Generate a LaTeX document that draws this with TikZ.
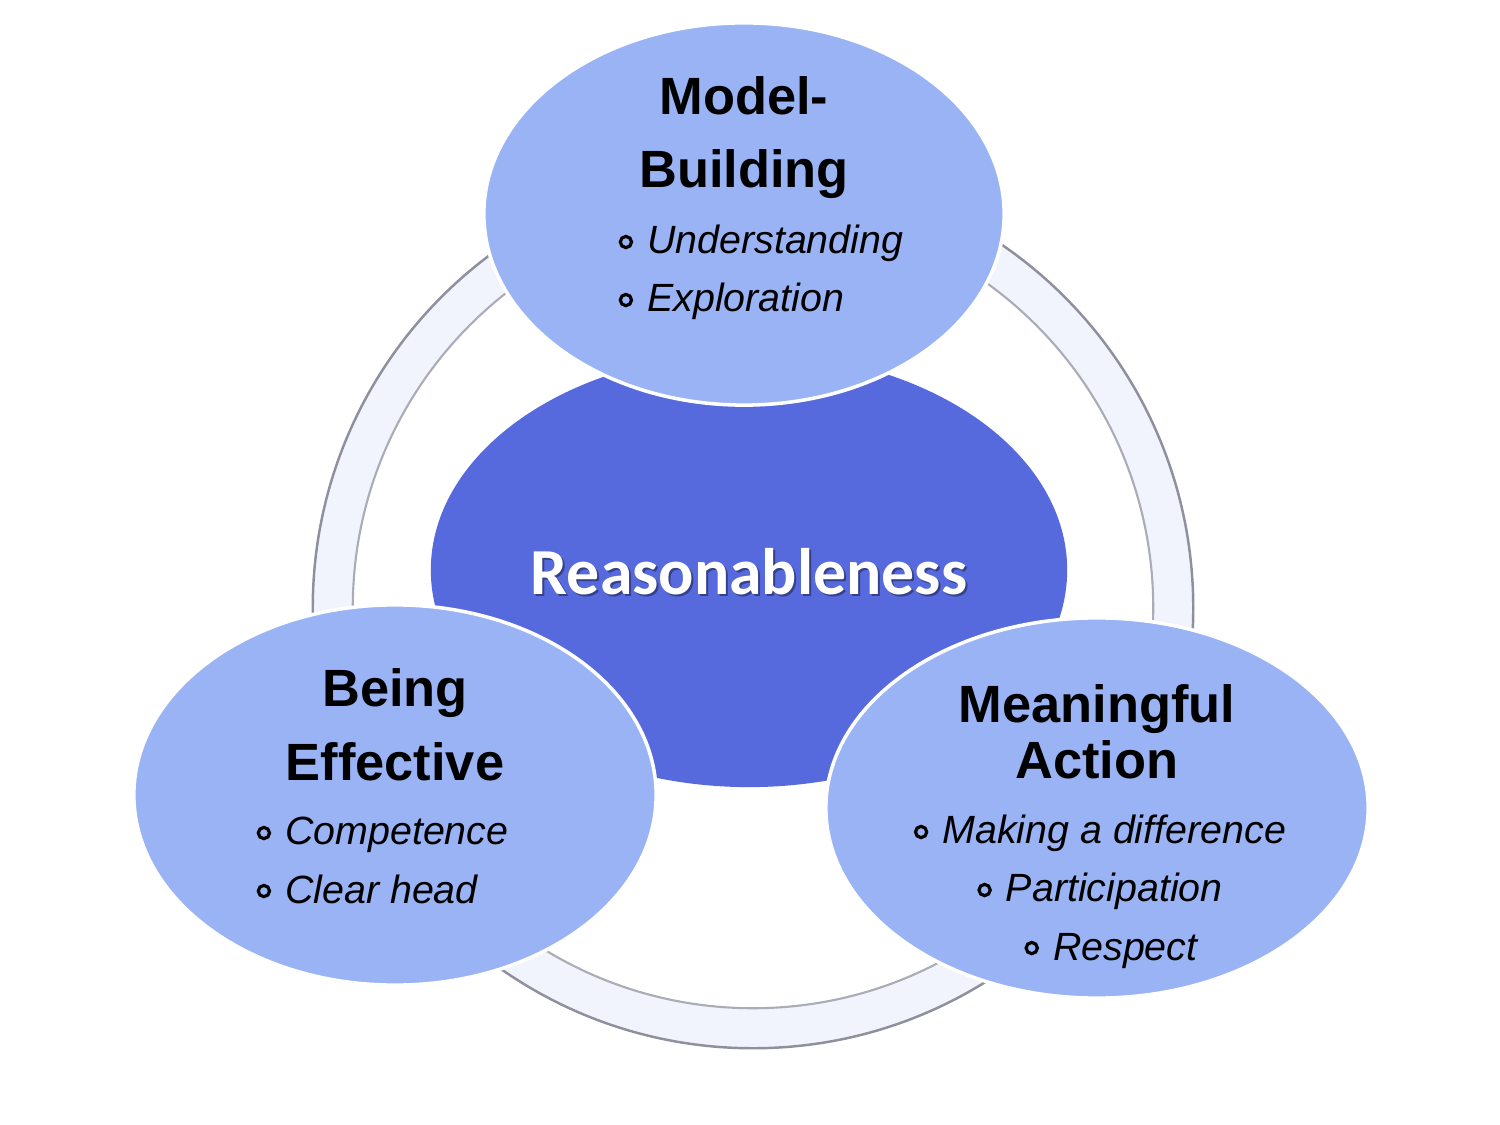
\documentclass[tikz,border=0pt]{standalone}
\usepackage{fontspec}
\setmainfont{Liberation Sans}
\newfontfamily\carlito{Carlito}
\usetikzlibrary{shapes.geometric}

\definecolor{petalblue}{HTML}{99B3F4}
\definecolor{coreblue}{HTML}{566ADE}
\definecolor{ringfill}{HTML}{F1F4FC}
\definecolor{ringedge}{HTML}{8E909E}

\newcommand{\ringbul}{\tikz[baseline={(0,-3.4pt)}]\draw[line width=0.9pt] (0,0) circle (1.6pt);\hspace{4pt}}

\begin{document}
\begin{tikzpicture}[
    x=0.01cm, y=-0.01cm,
    petal/.style={
        ellipse,
        fill=petalblue,
        draw=white,
        line width=1pt,
        inner sep=0pt
    },
    heading/.style={
        align=center,
        anchor=base,
        inner sep=0pt,
        font=\bfseries\fontsize{14.9pt}{20.8pt}\selectfont
    },
    items/.style={
        align=left,
        anchor=base west,
        inner sep=0pt,
        font=\itshape\fontsize{11.2pt}{16.5pt}\selectfont
    },
    coretext/.style={
        anchor=base,
        inner sep=0pt,
        font=\carlito\bfseries\fontsize{18.7pt}{22pt}\selectfont
    }
]
\useasboundingbox (0,0) rectangle (1500,1125);

% ring behind everything
\coordinate (ringc) at (753,608);
\fill[ringfill, even odd rule] (ringc) circle (4.4cm) (ringc) circle (4.0cm);
\draw[ringedge, line width=0.7pt] (ringc) circle (4.4cm);
\draw[ringedge!75, line width=0.6pt] (ringc) circle (4.0cm);

\node[ellipse, fill=coreblue, inner sep=0pt, minimum width=6.36cm, minimum height=4.34cm] (core) at (749,570) {};
\node[petal, minimum width=5.2cm, minimum height=3.82cm] (model) at (744,214) {};
\node[petal, minimum width=5.22cm, minimum height=3.8cm] (effective) at (395,795) {};
\node[petal, minimum width=5.42cm, minimum height=3.8cm] (action) at (1097,808) {};

\node[coretext, text=coreblue!35!black, opacity=0.6] at (751,597) {Reasonableness};
\node[coretext, text=white] (reason) at (749,595) {Reasonableness};

% base anchor sits on the last line
\node[heading] (modeltitle) at (744,188) {Model-\\Building};
\node[items] (modelitems) at (618,312) {\ringbul Understanding\\\ringbul Exploration};

\node[heading] (efftitle) at (395,780) {Being\\Effective};
\node[items] (effitems) at (256,903) {\ringbul Competence\\\ringbul Clear head};

\node[heading, font=\bfseries\fontsize{14.9pt}{15.9pt}\selectfont] (acttitle) at (1097,778) {Meaningful\\Action};
\node[items, align=center, anchor=base] (actitems) at (1100,960) {\ringbul Making a difference\\\ringbul Participation\\\hspace*{0.22cm}\ringbul Respect};
\end{tikzpicture}
\end{document}
